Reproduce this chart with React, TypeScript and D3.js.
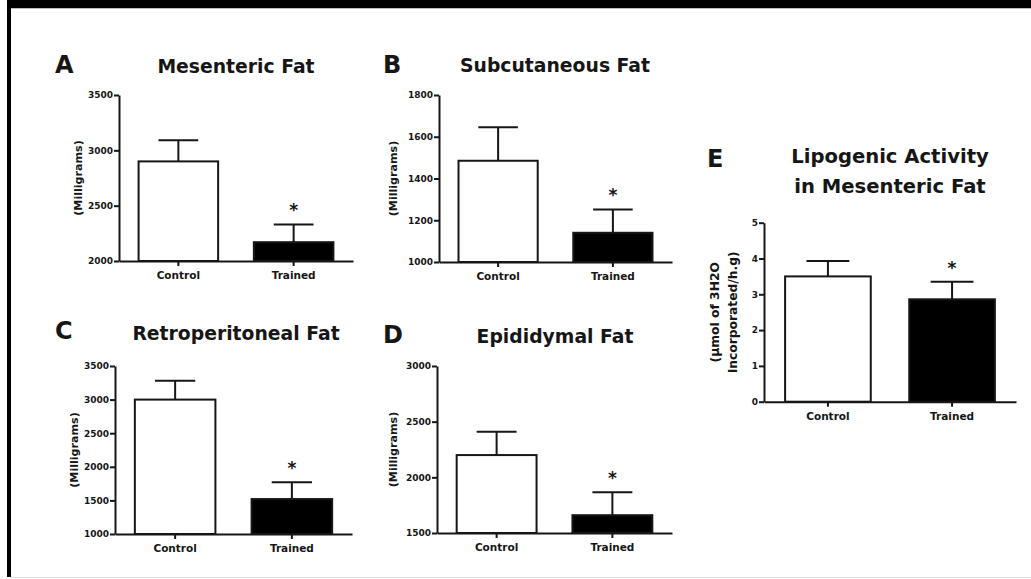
import { useEffect, useRef } from "react";
import * as d3 from "d3";

// groups on every panel
const categories = ["Control", "Trained"];

// A - mesenteric fat (mg)
const mesentericMeans = [2900, 2170];
const mesentericErrs = [190, 160];
const mesentericTicks = [2000, 2500, 3000, 3500];

// B - subcutaneous fat (mg)
const subcutaneousMeans = [1485, 1140];
const subcutaneousErrs = [160, 112];
const subcutaneousTicks = [1000, 1200, 1400, 1600, 1800];

// C - retroperitoneal fat (mg)
const retroMeans = [3000, 1520];
const retroErrs = [280, 250];
const retroTicks = [1000, 1500, 2000, 2500, 3000, 3500];

// D - epididymal fat (mg)
const epididymalMeans = [2200, 1660];
const epididymalErrs = [210, 205];
const epididymalTicks = [1500, 2000, 2500, 3000];

// E - lipogenic activity
const lipoMeans = [3.5, 2.86];
const lipoErrs = [0.43, 0.49];
const lipoTicks = [0, 1, 2, 3, 4, 5];

const FONT = "'DejaVu Sans', Verdana, sans-serif";
const INK = "#161616";

const panels = [
  {
    letter: "A", title: ["Mesenteric Fat"], yLabel: ["(Milligrams)"],
    means: mesentericMeans, errs: mesentericErrs, ticks: mesentericTicks,
    x0: 119, x1: 353, yTop: 95, yBottom: 261,
    letterX: 55, letterY: 73, titleX: 236, titleY: 73, titleSize: 18.8, labelX: 78,
  },
  {
    letter: "B", title: ["Subcutaneous Fat"], yLabel: ["(Milligrams)"],
    means: subcutaneousMeans, errs: subcutaneousErrs, ticks: subcutaneousTicks,
    x0: 439, x1: 672, yTop: 95, yBottom: 262,
    letterX: 383, letterY: 73, titleX: 555, titleY: 72, titleSize: 18.8, labelX: 393,
  },
  {
    letter: "C", title: ["Retroperitoneal Fat"], yLabel: ["(Milligrams)"],
    means: retroMeans, errs: retroErrs, ticks: retroTicks,
    x0: 115, x1: 352, yTop: 366, yBottom: 534,
    letterX: 55, letterY: 339, titleX: 236, titleY: 340, titleSize: 18.8, labelX: 74,
  },
  {
    letter: "D", title: ["Epididymal Fat"], yLabel: ["(Milligrams)"],
    means: epididymalMeans, errs: epididymalErrs, ticks: epididymalTicks,
    x0: 437, x1: 672, yTop: 366, yBottom: 533,
    letterX: 383, letterY: 343, titleX: 555, titleY: 343, titleSize: 18.8, labelX: 393,
  },
  {
    letter: "E", title: ["Lipogenic Activity", "in Mesenteric Fat"],
    yLabel: ["(µmol of 3H2O", "incorporated/h.g)"],
    means: lipoMeans, errs: lipoErrs, ticks: lipoTicks,
    x0: 764, x1: 1016, yTop: 222.7, yBottom: 401.7,
    letterX: 707, letterY: 167, titleX: 890, titleY: 163, titleSize: 19.6, labelX: 715,
  },
];

const App = () => {
  const svgRef = useRef<SVGSVGElement>(null);

  useEffect(() => {
    const svg = d3.select(svgRef.current);
    svg.selectAll("*").remove();

    // frame
    svg.append("rect").attr("width", 1031).attr("height", 579).attr("fill", "#fff");
    svg.append("rect").attr("x", 7).attr("y", 0).attr("width", 1024).attr("height", 8).attr("fill", "#000");
    svg.append("rect").attr("x", 7).attr("y", 0).attr("width", 4).attr("height", 577).attr("fill", "#000");
    svg.append("line").attr("x1", 11).attr("x2", 1031).attr("y1", 8.5).attr("y2", 8.5).attr("stroke", "#bbb");
    svg.append("line").attr("x1", 11).attr("x2", 1031).attr("y1", 577.5).attr("y2", 577.5).attr("stroke", "#e2e2e2");

    panels.forEach((p) => {
      const g = svg.append("g");

      const x = d3.scaleBand().domain(categories).range([p.x0, p.x1]).paddingInner(0.31).paddingOuter(0.17);
      const y = d3.scaleLinear().domain([p.ticks[0], p.ticks[p.ticks.length - 1]]).range([p.yBottom, p.yTop]);

      const rows = categories.map((c, i) => ({ cat: c, mean: p.means[i], err: p.errs[i] }));

      // error bars (upper only)
      rows.forEach((d) => {
        const cx = x(d.cat)! + x.bandwidth() / 2;
        const half = x.bandwidth() / 4;
        g.append("line").attr("x1", cx).attr("x2", cx)
          .attr("y1", y(d.mean)).attr("y2", y(d.mean + d.err))
          .attr("stroke", INK).attr("stroke-width", 2);
        g.append("line").attr("x1", cx - half).attr("x2", cx + half)
          .attr("y1", y(d.mean + d.err)).attr("y2", y(d.mean + d.err))
          .attr("stroke", INK).attr("stroke-width", 2);
      });

      // bars
      g.selectAll("rect.bar")
        .data(rows)
        .join("rect")
        .attr("class", "bar")
        .attr("x", (d) => x(d.cat)!)
        .attr("y", (d) => y(d.mean))
        .attr("width", x.bandwidth())
        .attr("height", (d) => y(p.ticks[0]) - y(d.mean))
        .attr("fill", (d, i) => (i === 0 ? "#fff" : "#000"))
        .attr("stroke", INK)
        .attr("stroke-width", 2);

      // significance star over trained
      const tr = rows[1];
      g.append("text")
        .attr("x", x(tr.cat)! + x.bandwidth() / 2)
        .attr("y", y(tr.mean + tr.err) - 8)
        .attr("text-anchor", "middle")
        .attr("font-family", FONT).attr("font-weight", "bold").attr("font-size", 17)
        .attr("fill", INK)
        .text("*");

      // axes
      const yAxis = g.append("g")
        .attr("transform", `translate(${p.x0},0)`)
        .call(d3.axisLeft(y).tickValues(p.ticks).tickSize(5).tickSizeOuter(0).tickPadding(1).tickFormat(d3.format("d")));
      const xAxis = g.append("g")
        .attr("transform", `translate(0,${p.yBottom})`)
        .call(d3.axisBottom(x).tickSize(5).tickSizeOuter(0).tickPadding(6));

      [yAxis, xAxis].forEach((a) => {
        a.selectAll("path,line").attr("stroke", INK).attr("stroke-width", 2);
        a.selectAll("text").attr("fill", INK).attr("font-family", FONT).attr("font-weight", "bold");
      });
      yAxis.selectAll("text").attr("font-size", 9);
      xAxis.selectAll("text").attr("font-size", 10.5);

      // y label
      const midY = (p.yTop + p.yBottom) / 2;
      const lbl = g.append("text")
        .attr("transform", `translate(${p.labelX + 4},${midY}) rotate(-90)`)
        .attr("text-anchor", "middle")
        .attr("font-family", FONT).attr("font-weight", "bold")
        .attr("font-size", p.yLabel.length > 1 ? 12.3 : 11.1)
        .attr("fill", INK);
      p.yLabel.forEach((t, i) => {
        lbl.append("tspan").attr("x", 0).attr("dy", i === 0 ? 0 : "1.45em").text(t);
      });

      // panel letter and title
      g.append("text")
        .attr("x", p.letterX).attr("y", p.letterY)
        .attr("font-family", FONT).attr("font-weight", "bold").attr("font-size", 24)
        .attr("fill", INK)
        .text(p.letter);
      p.title.forEach((t, i) => {
        g.append("text")
          .attr("x", p.titleX).attr("y", p.titleY + i * 30)
          .attr("text-anchor", "middle")
          .attr("font-family", FONT).attr("font-weight", "bold").attr("font-size", p.titleSize)
          .attr("fill", INK)
          .text(t);
      });
    });
  }, []);

  return (
    <svg
      ref={svgRef}
      width={1031}
      height={579}
      style={{ position: "absolute", left: 0, top: 0, display: "block" }}
    ></svg>
  );
};

export default App;
